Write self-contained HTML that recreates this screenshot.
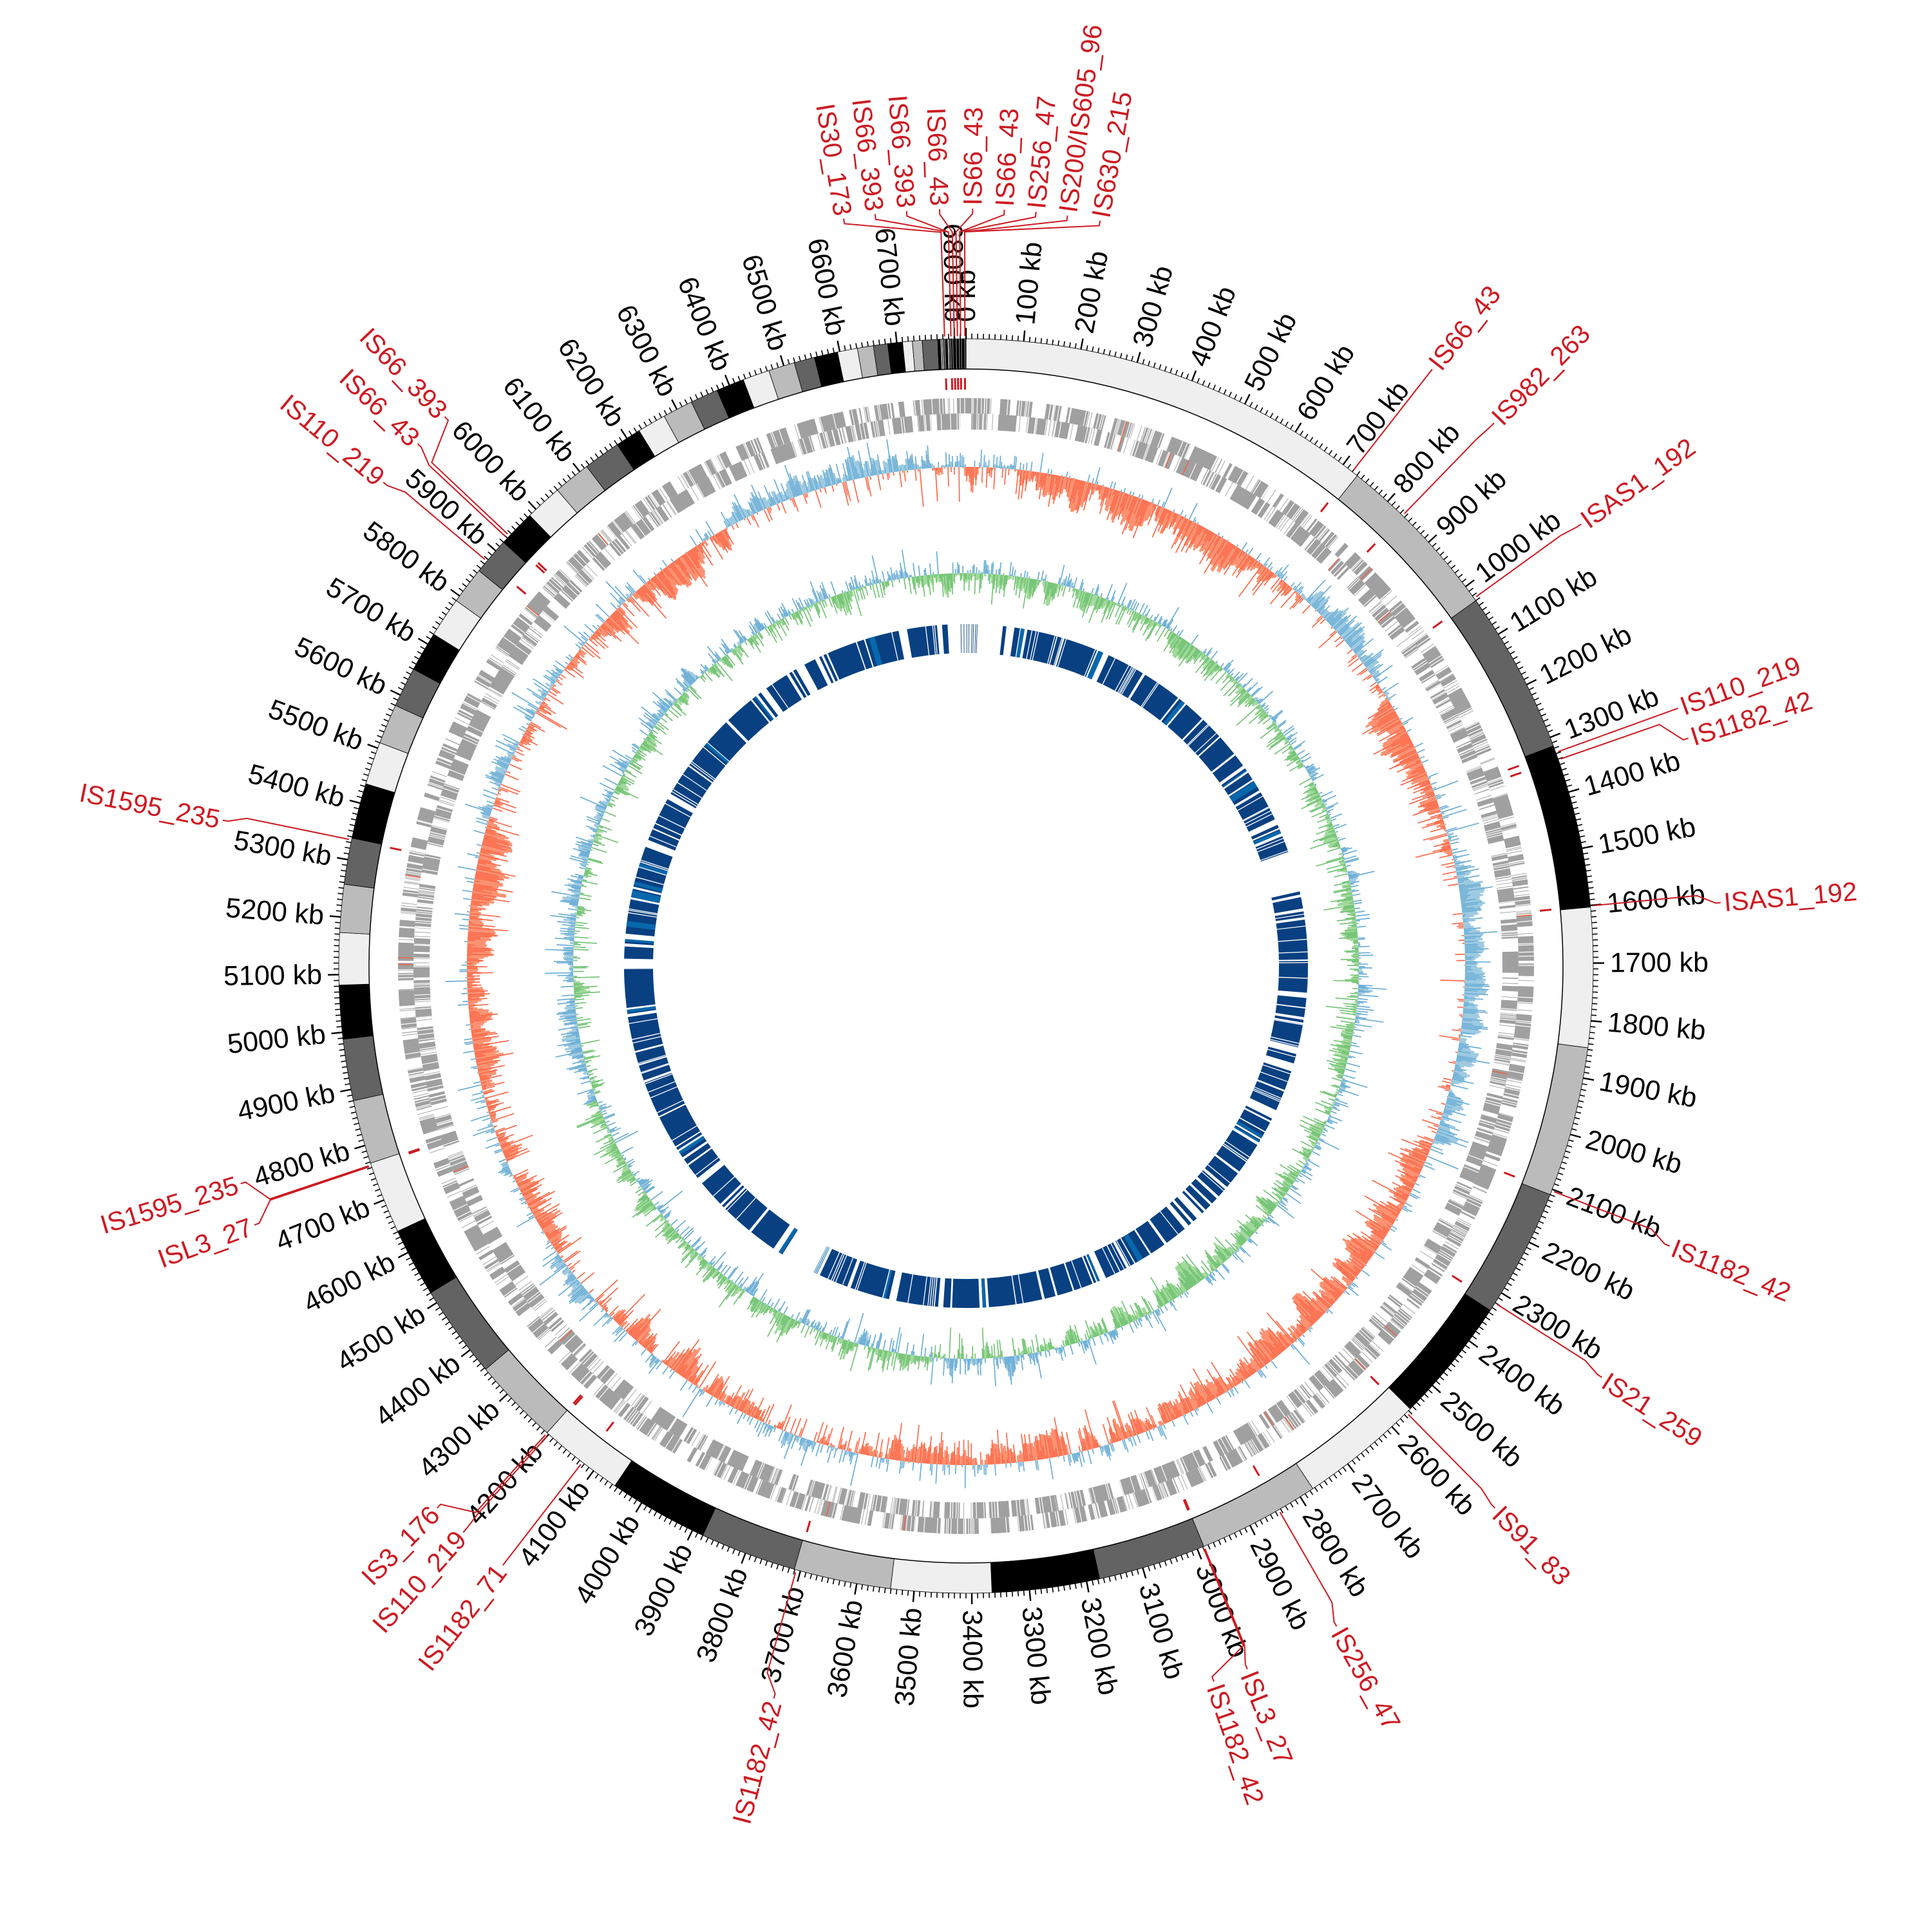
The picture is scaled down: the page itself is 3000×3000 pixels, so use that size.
<!DOCTYPE html>
<html><head><meta charset="utf-8">
<style>
html,body{margin:0;padding:0;background:#fff;}
svg{display:block;}
.tk{font-family:"Liberation Sans",sans-serif;font-size:43px;fill:#000;}
.is{font-family:"Liberation Sans",sans-serif;font-size:41px;fill:#cc1b22;}
</style></head>
<body>
<svg id="s" width="3000" height="3000" viewBox="0 0 3000 3000" xmlns="http://www.w3.org/2000/svg">
<rect width="3000" height="3000" fill="#fff"/>
<g id="gfx"></g>
<g id="ticks">
<text class="tk">0 kb</text><text class="tk">100 kb</text><text class="tk">200 kb</text><text class="tk">300 kb</text><text class="tk">400 kb</text><text class="tk">500 kb</text><text class="tk">600 kb</text><text class="tk">700 kb</text><text class="tk">800 kb</text><text class="tk">900 kb</text>
<text class="tk">1000 kb</text><text class="tk">1100 kb</text><text class="tk">1200 kb</text><text class="tk">1300 kb</text><text class="tk">1400 kb</text><text class="tk">1500 kb</text><text class="tk">1600 kb</text><text class="tk">1700 kb</text><text class="tk">1800 kb</text><text class="tk">1900 kb</text>
<text class="tk">2000 kb</text><text class="tk">2100 kb</text><text class="tk">2200 kb</text><text class="tk">2300 kb</text><text class="tk">2400 kb</text><text class="tk">2500 kb</text><text class="tk">2600 kb</text><text class="tk">2700 kb</text><text class="tk">2800 kb</text><text class="tk">2900 kb</text>
<text class="tk">3000 kb</text><text class="tk">3100 kb</text><text class="tk">3200 kb</text><text class="tk">3300 kb</text><text class="tk">3400 kb</text><text class="tk">3500 kb</text><text class="tk">3600 kb</text><text class="tk">3700 kb</text><text class="tk">3800 kb</text><text class="tk">3900 kb</text>
<text class="tk">4000 kb</text><text class="tk">4100 kb</text><text class="tk">4200 kb</text><text class="tk">4300 kb</text><text class="tk">4400 kb</text><text class="tk">4500 kb</text><text class="tk">4600 kb</text><text class="tk">4700 kb</text><text class="tk">4800 kb</text><text class="tk">4900 kb</text>
<text class="tk">5000 kb</text><text class="tk">5100 kb</text><text class="tk">5200 kb</text><text class="tk">5300 kb</text><text class="tk">5400 kb</text><text class="tk">5500 kb</text><text class="tk">5600 kb</text><text class="tk">5700 kb</text><text class="tk">5800 kb</text><text class="tk">5900 kb</text>
<text class="tk">6000 kb</text><text class="tk">6100 kb</text><text class="tk">6200 kb</text><text class="tk">6300 kb</text><text class="tk">6400 kb</text><text class="tk">6500 kb</text><text class="tk">6600 kb</text><text class="tk">6700 kb</text><text class="tk">6800 kb</text>
</g>
<g id="leaders"></g>
<g id="islabels">
<text class="is">IS30_173</text>
<text class="is">IS66_393</text>
<text class="is">IS66_393</text>
<text class="is">IS66_43</text>
<text class="is">IS66_43</text>
<text class="is">IS66_43</text>
<text class="is">IS256_47</text>
<text class="is">IS200/IS605_96</text>
<text class="is">IS630_215</text>
<text class="is">IS66_43</text>
<text class="is">IS982_263</text>
<text class="is">ISAS1_192</text>
<text class="is">IS110_219</text>
<text class="is">IS1182_42</text>
<text class="is">ISAS1_192</text>
<text class="is">IS1182_42</text>
<text class="is">IS21_259</text>
<text class="is">IS91_83</text>
<text class="is">IS256_47</text>
<text class="is">ISL3_27</text>
<text class="is">IS1182_42</text>
<text class="is">IS1182_42</text>
<text class="is">IS1182_71</text>
<text class="is">IS110_219</text>
<text class="is">IS3_176</text>
<text class="is">ISL3_27</text>
<text class="is">IS1595_235</text>
<text class="is">IS1595_235</text>
<text class="is">IS110_219</text>
<text class="is">IS66_43</text>
<text class="is">IS66_393</text>
</g>
</svg>
<script>
(function(){
var cx=1500,cy=1500,L=6820;
function dg(kb){return kb*360/L;}
function P(d,r){var a=(d-90)*Math.PI/180;return [cx+r*Math.cos(a),cy+r*Math.sin(a)];}
function f(n){return n.toFixed(2);}
function arc(a0,a1,r0,r1){
  var lg=(a1-a0)>180?1:0;var p1=P(a0,r1),p2=P(a1,r1),p3=P(a1,r0),p4=P(a0,r0);
  return 'M'+f(p1[0])+' '+f(p1[1])+'A'+r1+' '+r1+' 0 '+lg+' 1 '+f(p2[0])+' '+f(p2[1])+'L'+f(p3[0])+' '+f(p3[1])+'A'+r0+' '+r0+' 0 '+lg+' 0 '+f(p4[0])+' '+f(p4[1])+'Z';
}
function rl(d,r0,r1){var a=P(d,r0),b=P(d,r1);return 'M'+f(a[0])+' '+f(a[1])+'L'+f(b[0])+' '+f(b[1]);}
var seed=12345;
function rnd(){seed|=0;seed=seed+0x6D2B79F5|0;var t=Math.imul(seed^seed>>>15,1|seed);t=t+Math.imul(t^t>>>7,61|t)^t;return((t^t>>>14)>>>0)/4294967296;}
var out=[];
var E='#efefef',Bb='#bbbbbb',D='#636363',K='#000000';
var B=[[0,731,E],[731,1030,Bb],[1030,1316,D],[1316,1603,K],[1603,1847,E],[1847,2110,Bb],[2110,2336,D],[2336,2556,K],[2556,2774,E],[2774,2988,Bb],[2988,3177,D],[3177,3365,K],[3365,3541,E],[3541,3711,Bb],[3711,3880,D],[3880,4055,K],[4055,4204,E],[4204,4357,Bb],[4357,4520,D],[4520,4641,K],[4641,4768,E],[4768,4880,Bb],[4880,4988,D],[4988,5082,K],[5082,5173,E],[5173,5257,Bb],[5257,5338,D],[5338,5435,K],[5435,5510,E],[5510,5580,Bb],[5580,5650,D],[5650,5720,K],[5720,5790,E],[5790,5855,Bb],[5855,5920,D],[5920,5985,K],[5985,6050,E],[6050,6115,Bb],[6115,6180,D],[6180,6225,K],[6225,6275,E],[6275,6328,Bb],[6328,6377,D],[6377,6426,K],[6426,6473,E],[6473,6519,Bb],[6519,6555,D],[6555,6596,K],[6596,6631,E],[6631,6659,Bb],[6659,6684,D],[6684,6710,K],[6710,6727,E],[6727,6744,Bb],[6744,6771,D]];
var cyc=[K,E,Bb,D];var s=6771,ci=0;
while(s<6795){var w=1.5+rnd()*3;B.push([s,Math.min(s+w,6795),cyc[ci%4]]);ci++;s+=w;}
B.push([6795,6820,K]);
B.forEach(function(b){out.push('<path d="'+arc(dg(b[0]),dg(b[1]),927,974)+'" fill="'+b[2]+'" stroke="#000" stroke-width="0.8"/>');});
for(var k=6797;k<6818;k+=2+rnd()*4){out.push('<path d="'+rl(dg(k),927,974)+'" stroke="#999" stroke-width="1"/>');}
out.push('<circle cx="1500" cy="1500" r="927" fill="none" stroke="#000" stroke-width="1.5"/>');
var tp='',tp2='';
for(var t=0;t<6820;t+=10){ if(t%100===0) tp2+=rl(dg(t),974,991); else tp+=rl(dg(t),974,982);}
out.push('<path d="'+tp+'" stroke="#000" stroke-width="1.6"/>');
out.push('<path d="'+tp2+'" stroke="#000" stroke-width="2.4"/>');
function geneRow(r0,r1,ph){
  var a=0,on=ph,g='',w='',red='';
  while(a<360){
    var len=on?(0.3+rnd()*2.2):(0.2+rnd()*1.3);
    var e=Math.min(a+len,360);
    if(on){g+=arc(a,e,r0,r1);
      var n=Math.floor(len*5*rnd());for(var i=0;i<n;i++){w+=rl(a+rnd()*(e-a),r0,r1);}
      if(rnd()<0.08)red+=rl(a+rnd()*(e-a),r0,r1);
    } else {
      var m=Math.floor(len*4*rnd());for(var j=0;j<m;j++){var aa=a+rnd()*(e-a);g+=arc(aa,aa+0.06,r0,r1);}
    }
    a=e;on=!on;
  }
  out.push('<path d="'+g+'" fill="#a0a0a0"/>');
  out.push('<path d="'+w+'" stroke="#fff" stroke-width="1.2"/>');
  out.push('<path d="'+red+'" stroke="#f06040" stroke-width="1.5"/>');
}
geneRow(858,882,true);geneRow(833,858,false);
function interp(cp,d){for(var i=0;i<cp.length-1;i++){if(d>=cp[i][0]&&d<=cp[i+1][0]){var t=(d-cp[i][0])/(cp[i+1][0]-cp[i][0]);return cp[i][1]+t*(cp[i+1][1]-cp[i][1]);}}return 0;}
var gcb=[[0,-0.2],[15,-0.5],[30,-0.6],[40,-0.3],[45,0.4],[55,0.3],[60,-0.6],[68,-0.4],[75,-0.1],[80,0.3],[90,0.5],[100,0.5],[108,0.2],[115,-0.3],[125,-0.5],[140,-0.4],[155,-0.3],[170,-0.3],[180,-0.3],[190,-0.2],[200,0.1],[210,-0.3],[220,-0.2],[230,0.2],[240,-0.4],[250,-0.1],[260,-0.3],[275,-0.4],[285,-0.3],[295,0.2],[305,0.1],[315,-0.3],[325,-0.4],[335,0.3],[345,0.3],[355,0.1],[360,-0.2]];
var N=2000;
function hist(base,ampP,ampN,biasFn,noiseAmp,colFn){
  var v=[],sm=[];
  for(var i=0;i<N;i++){var d=(i+0.5)*360/N;var r=(rnd()-0.5)*2;var sp=rnd()<0.2?(rnd()-0.5)*1.4:0;v.push(Math.max(-1,Math.min(1,biasFn(d)*0.6+r*noiseAmp+sp)));}
  for(var i2=0;i2<N;i2++){var sum=0;for(var k2=-4;k2<=4;k2++){sum+=v[(i2+k2+N)%N];}sm.push(sum/9);}
  var paths={};
  function add(c,w,s){if(!paths[c+'|'+w])paths[c+'|'+w]='';paths[c+'|'+w]+=s;}
  for(var i3=0;i3<N;i3++){var d3=(i3+0.5)*360/N;var c=colFn(d3);
    var x=Math.max(-0.85,Math.min(0.85,sm[i3]*1.8));if(x>=0)add(c[2],3.4,rl(d3,base,base+x*ampP));else add(c[3],3.4,rl(d3,base,base+x*ampN));}
  for(var i4=0;i4<N;i4++){var d4=(i4+0.5)*360/N;var c4=colFn(d4);
    var y=v[i4];if(y>=0)add(c4[0],1.7,rl(d4,base,base+y*ampP));else add(c4[1],1.7,rl(d4,base,base+y*ampN));}
  var keys=Object.keys(paths);
  keys.sort(function(a,b){return parseFloat(b.split('|')[1])-parseFloat(a.split('|')[1]);});
  keys.forEach(function(key){var pr=key.split('|');out.push('<path d="'+paths[key]+'" stroke="'+pr[0]+'" stroke-width="'+pr[1]+'"/>');});
}
var BL='#6baed6',BLf='#9ecae1',RD='#fb6a4a',RDf='#fc9272',GR='#74c476',GRf='#a1d99b';
hist(775,52,62,function(d){return interp(gcb,d);},0.55,function(){return [BL,RD,BLf,RDf];});
var skb=[[0,-0.2],[90,-0.1],[150,-0.2],[185,0.1],[250,0.2],[300,0.1],[360,-0.2]];
hist(610,44,48,function(d){return interp(skb,d);},0.6,function(d){
  if(d>185&&d<250)return [GR,BL,GRf,BLf];return [BL,GR,BLf,GRf];});
var gaps=[[356.9,359],[2.2,6.2],[70.5,77.4],[206.5,212.5]];
function inGap(a){for(var i=0;i<gaps.length;i++){if(a>=gaps[i][0]&&a<gaps[i][1])return gaps[i][1];}return -1;}
var db='',lb='',wl='';
var a=6.2;
while(a<356.9){
  var gq=inGap(a);if(gq>0){a=gq;continue;}
  var len=0.4+Math.pow(rnd(),2)*6.5;var e=a+len;
  for(var gi=0;gi<gaps.length;gi++){if(a<gaps[gi][0]&&e>gaps[gi][0])e=gaps[gi][0];}
  if(e>356.9)e=356.9;
  db+=arc(a,e,486,531);
  if(rnd()<0.2){var s0=a+rnd()*(e-a)*0.6;lb+=arc(s0,Math.min(e,s0+0.2+rnd()*1.2),486,531);}
  var nw=Math.floor(rnd()*len*1.2);for(var wi=0;wi<nw;wi++){wl+=rl(a+rnd()*(e-a),486,531);}
  a=e+0.12+(rnd()<0.2?0.6+rnd()*0.9:rnd()*0.4);
}
for(var q=359.1;q<362.2;q+=0.25+rnd()*0.3){var qq=q%360;db+=arc(qq,qq+0.1,486,531);}
out.push('<path d="'+db+'" fill="#084081"/>');
out.push('<path d="'+lb+'" fill="#0868ac"/>');
out.push('<path d="'+wl+'" stroke="#fff" stroke-width="1.3"/>');
document.getElementById('gfx').innerHTML=out.join('');
var tks=document.querySelectorAll('#ticks text');
for(var i=0;i<tks.length;i++){
  var kb=parseFloat(tks[i].textContent);var d=dg(kb);
  tks[i].setAttribute('dominant-baseline','central');
  if(d<180){tks[i].setAttribute('transform','translate(1500 1500) rotate('+(d-90)+')');tks[i].setAttribute('x','1000');tks[i].setAttribute('y','0');}
  else{tks[i].setAttribute('transform','translate(1500 1500) rotate('+(d+90)+')');tks[i].setAttribute('x','-1000');tks[i].setAttribute('y','0');tks[i].setAttribute('text-anchor','end');}
}
var POS=[358.05,358.63,358.63,358.93,359.22,359.51,359.51,359.9,359.9,38.0,44.1,54.1,70.1,70.8,84.5,111.0,122.5,135.4,150.1,157.7,157.8,195.7,217.7,221.7,221.9,251.4,251.5,281.6,310.2,313.0,313.3];
var LAB=[350.7,353.1,355.5,358.0,0.5,2.9,5.3,7.7,10.2,38.0,44.2,54.3,70.1,72.5,85.2,111.7,122.9,135.7,150.7,158.2,160.9,194.7,217.7,221.6,224.3,250.0,253.3,281.1,309.7,313.6,316.5];
var isl=document.querySelectorAll('#islabels text');
var ld='',mk='';
for(var j=0;j<isl.length;j++){
  var p=POS[j],l=LAB[j];
  var p1=P(p,978),p2=P(p,1140),p3=P(l,1168),p4=P(l,1176);
  ld+='M'+f(p1[0])+' '+f(p1[1])+'L'+f(p2[0])+' '+f(p2[1])+'L'+f(p3[0])+' '+f(p3[1])+'L'+f(p4[0])+' '+f(p4[1]);
  mk+=rl(p,895,913);
  var el=isl[j];el.setAttribute('dominant-baseline','central');
  var lr=(l>=180&&l<360);
  if(!lr){el.setAttribute('transform','translate(1500 1500) rotate('+(l-90)+')');el.setAttribute('x','1181');el.setAttribute('y','0');}
  else{el.setAttribute('transform','translate(1500 1500) rotate('+(l+90)+')');el.setAttribute('x','-1181');el.setAttribute('y','0');el.setAttribute('text-anchor','end');}
}
document.getElementById('leaders').innerHTML='<path d="'+ld+'" fill="none" stroke="#cc1b22" stroke-width="2"/><path d="'+mk+'" stroke="#cc1b22" stroke-width="3"/>';
})();
</script>
</body></html>
